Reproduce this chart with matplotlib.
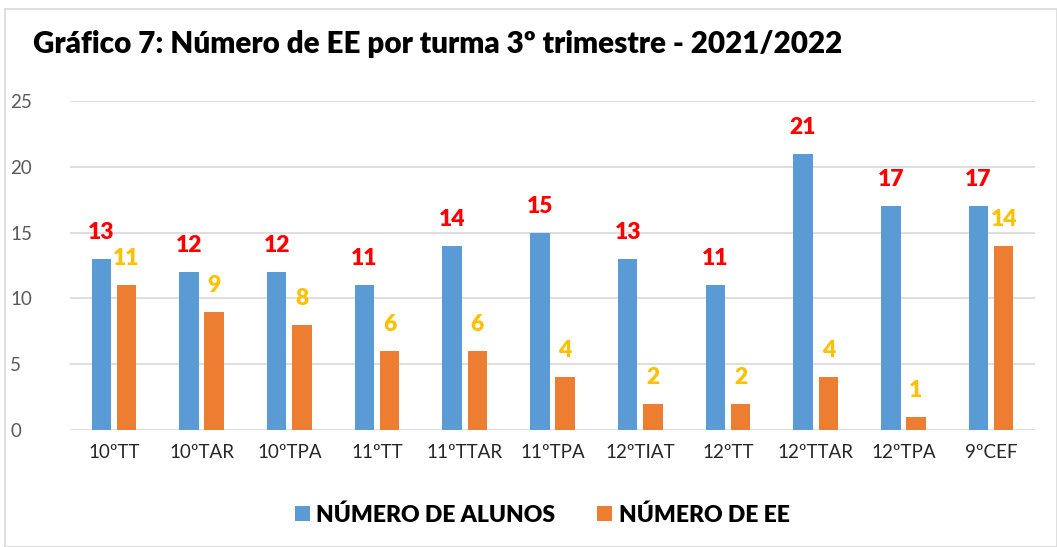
#! /usr/bin/env python3
# -*- coding: utf-8 -*-

import numpy as np
import matplotlib
matplotlib.use('Agg')
import matplotlib.pyplot as plt
from matplotlib.patches import Rectangle

plt.rcParams['font.family'] = ['Lato', 'DejaVu Sans']

turmas = ['10ºTT', '10ºTAR', '10ºTPA', '11ºTT', '11ºTTAR', '11ºTPA',
          '12ºTIAT', '12ºTT', '12ºTTAR', '12ºTPA', '9ºCEF']
alunos = [13, 12, 12, 11, 14, 15, 13, 11, 21, 17, 17]
num_ee = [11, 9, 8, 6, 6, 4, 2, 2, 4, 1, 14]

BLUE = '#5b9bd5'
ORANGE = '#ed7d31'


def main():
    fig = plt.figure(figsize=(10.57, 5.47), dpi=100)
    fig.patches.append(Rectangle((0.005, 0.0), 0.995, 0.983, transform=fig.transFigure,
                                 fill=False, edgecolor='#d9d9d9', linewidth=1.2))
    ax = fig.add_axes([70 / 1057, 1 - 430 / 547, 965 / 1057, 329 / 547])

    x = np.arange(len(turmas))
    w = 0.222
    off = 0.1435
    b1 = ax.bar(x - off, alunos, w, color=BLUE, label='NÚMERO DE ALUNOS', zorder=2)
    b2 = ax.bar(x + off, num_ee, w, color=ORANGE, label='NÚMERO DE EE', zorder=2)

    # data labels, red over students, yellow over EE
    for rect, v in zip(b1, alunos):
        ax.annotate(str(v), (rect.get_x() + rect.get_width() / 2, v),
                    xytext=(0, 19), textcoords='offset points', ha='center', va='center',
                    color='#ff0000', fontsize=16.5, fontweight='heavy')
    for rect, v in zip(b2, num_ee):
        ax.annotate(str(v), (rect.get_x() + rect.get_width() / 2, v),
                    xytext=(0, 19), textcoords='offset points', ha='center', va='center',
                    color='#ffc000', fontsize=16.5, fontweight='heavy')

    ax.set_xlim(-0.5, len(turmas) - 0.5)
    ax.set_ylim(0, 25)
    ax.set_yticks(range(0, 26, 5))
    ax.yaxis.grid(True, color='#d9d9d9', linewidth=1.2, zorder=0)
    ax.set_axisbelow(True)
    for s in ax.spines.values():
        s.set_visible(False)
    ax.tick_params(axis='both', length=0)
    ax.tick_params(axis='y', labelsize=13.5, labelcolor='#595959')
    ax.tick_params(axis='x', labelsize=13.5, labelcolor='#262626', pad=10)
    ax.set_xticks(x)
    ax.set_xticklabels(turmas)
    for lbl in ax.get_yticklabels():
        lbl.set_horizontalalignment('left')
    ax.yaxis.set_tick_params(pad=43)

    fig.text(33 / 1057, 1 - 44 / 547, 'Gráfico 7: Número de EE por turma 3º trimestre - 2021/2022',
             fontsize=21.3, fontweight='heavy', ha='left', va='center', color='black')

    fig.legend(handles=[b1, b2], loc='center', bbox_to_anchor=(542 / 1057, 1 - 515 / 547),
               ncol=2, frameon=False, prop={'size': 16.5, 'weight': 'heavy'},
               handlelength=0.65, handleheight=0.65, handletextpad=0.3, columnspacing=1.8)

    plt.savefig('out.png', dpi=100)
    plt.close()


if __name__ == '__main__':
    main()
